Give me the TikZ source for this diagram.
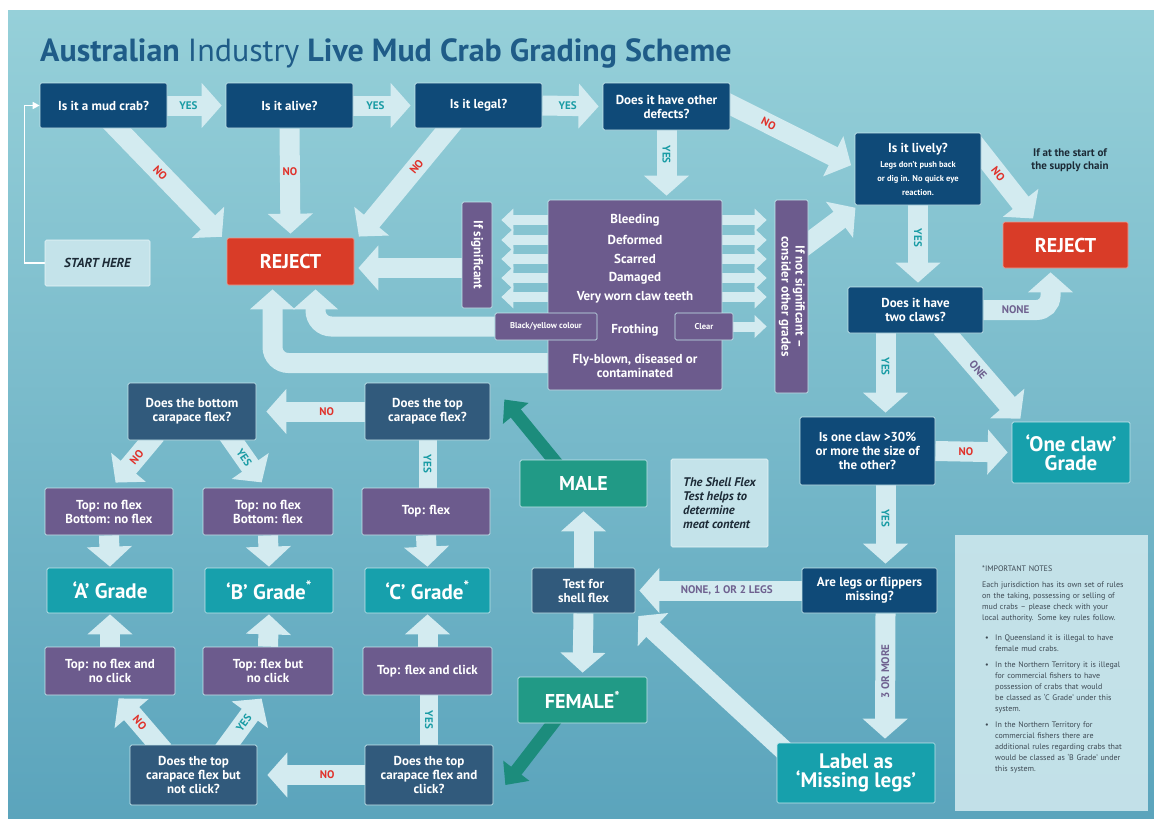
\documentclass[tikz,border=0pt]{standalone}
\usepackage{fontspec}
\usepackage{graphicx}
\setmainfont{PT Sans}
\usetikzlibrary{arrows.meta,calc}
\definecolor{bgA}{HTML}{96D0D9}
\definecolor{bgB}{HTML}{78BCCB}
\definecolor{bgC}{HTML}{5BA4BC}
\definecolor{titleC}{HTML}{1F5C88}
\definecolor{navy}{HTML}{0F4A78}
\definecolor{slate}{HTML}{315A7C}
\definecolor{purp}{HTML}{6C5B8D}
\definecolor{tealG}{HTML}{17A0AC}
\definecolor{greenC}{HTML}{219A86}
\definecolor{greenA}{HTML}{1C8C7C}
\definecolor{redC}{HTML}{D93C28}
\definecolor{arrC}{HTML}{D3EBF0}
\definecolor{edgeC}{HTML}{C6E6EC}
\definecolor{yesC}{HTML}{1A9CA5}
\definecolor{noC}{HTML}{E0322B}
\definecolor{othC}{HTML}{6F6290}
\definecolor{darkT}{HTML}{1C2A36}
\definecolor{paleC}{HTML}{C4E3EA}
\definecolor{notesC}{HTML}{CBE6EC}
\pgfdeclarelayer{bg}
\pgfdeclarelayer{arr}
\pgfsetlayers{bg,arr,main}
\newcommand\bx[7]{\node[#6, minimum width={(#4-#2)*1pt}, minimum height={(#5-#3)*1pt}] (#1) at ({(#2+#4)/2},{(#3+#5)/2}) {#7};}
\newcommand\nbul{\par\vspace{5pt}\hangindent=13pt\hangafter=1\noindent\makebox[13pt][l]{\hspace{3pt}\textbullet}}
\newcommand\sml{\fontsize{8.5}{9.5}\selectfont}
\newcommand\sfl{\fontsize{12.5}{14.5}\selectfont\bfseries\itshape}
\begin{document}
\begin{tikzpicture}[x=1pt,y=-1pt,
 box/.style={draw=edgeC, line width=0.7pt, rounded corners=1.5pt, text=white, align=center, inner sep=1pt, font=\bfseries\fontsize{13}{14}\selectfont},
 q/.style={box, fill=navy},
 sq/.style={box, fill=slate},
 pq/.style={box, fill=purp},
 pqs/.style={box, fill=purp, font=\bfseries\fontsize{8.5}{9}\selectfont},
 gr/.style={box, fill=tealG, font=\bfseries\fontsize{21}{19}\selectfont},
 sex/.style={box, fill=greenC, font=\bfseries\fontsize{20}{20}\selectfont},
 rej/.style={box, fill=redC, draw=redC!50!white, font=\bfseries\fontsize{20}{20}\selectfont},
 pale/.style={box, fill=paleC, draw=white!60!paleC, text=darkT},
 sftS/.style={pale, align=left},
 dtext/.style={text=white, inner sep=0pt, align=center, font=\bfseries\fontsize{13}{14}\selectfont},
 flow/.style={draw=arrC, line width=20pt, -{Triangle[length=20pt,width=44pt]}, shorten >=4pt},
 sflow/.style={draw=arrC, line width=10pt, -{Triangle[length=12pt,width=22pt]}},
 gflow/.style={draw=greenA, line width=13pt, -{Triangle[length=18pt,width=32pt]}},
 shaft/.style={draw=arrC, line width=18pt},
 lab/.style={font=\bfseries\fontsize{11}{11}\selectfont, inner sep=0pt},
 yes/.style={lab, text=yesC},
 no/.style={lab, text=noC},
 oth/.style={lab, text=othC}]
\useasboundingbox (0,0) rectangle (1154,819);
\begin{pgfonlayer}{bg}
\fill[white] (0,0) rectangle (1154,819);
\shade[top color=bgA, middle color=bgB, bottom color=bgC] (8,10) rectangle (1154,819);
\end{pgfonlayer}

\node[anchor=base west, text=titleC, font=\bfseries\fontsize{32}{34}\selectfont, inner sep=0pt] (title) at (40,61) {Australian {\mdseries Industry} Live Mud Crab Grading Scheme};

% top row
\bx{b1}{40}{83}{167}{128}{q}{Is it a mud crab?}
\bx{b2}{226}{83}{353}{128}{q}{Is it alive?}
\bx{b3}{415}{83}{542}{128}{q}{Is it legal?}
\bx{b4}{603}{83}{730}{130}{q}{Does it have other\\defects?}
\bx{start}{45}{240}{150}{286}{pale}{\fontsize{13}{14}\selectfont\itshape START HERE}
\bx{rejL}{227}{238}{354}{285}{rej}{REJECT}
\bx{ifsig}{462}{202}{492}{308}{pq}{\rotatebox{-90}{If significant}}
\bx{defects}{548}{200}{722}{390}{pq}{}
\node[dtext] (d1) at (635,220) {Bleeding};
\node[dtext] (d2) at (635,240) {Deformed};
\node[dtext] (d3) at (635,259) {Scarred};
\node[dtext] (d4) at (635,278) {Damaged};
\node[dtext] (d5) at (635,297) {Very worn claw teeth};
\node[dtext] (d6) at (635,330) {Frothing};
\node[dtext] (d7) at (635,366) {Fly-blown, diseased or\\contaminated};
\bx{bycol}{495}{313}{597}{340}{pqs}{Black/yellow colour}
\bx{clear}{675}{313}{733}{340}{pqs}{Clear}
\bx{ifnot}{775}{200}{808}{393}{pq}{\rotatebox{-90}{\begin{tabular}{@{}c@{}}If not significant –\\consider other grades\end{tabular}}}

% right column
\bx{lively}{855}{133}{981}{205}{q}{Is it lively?\\[1pt]\sml Legs don't push back\\\sml or dig in. No quick eye\\\sml reaction.}
\node[text=darkT, align=center, inner sep=0pt, font=\bfseries\fontsize{11}{13.5}\selectfont] (chain) at (1070,160) {If at the start of\\the supply chain};
\bx{rejR}{1003}{222}{1128}{268}{rej}{REJECT}
\bx{claws}{848}{287}{983}{333}{q}{Does it have\\two claws?}
\bx{oneq}{800}{417}{935}{485}{q}{Is one claw >30\%\\or more the size of\\the other?}
\bx{onegr}{1012}{422}{1130}{483}{gr}{‘One claw’\\Grade}
\bx{legs}{802}{568}{937}{613}{q}{Are legs or flippers\\missing?}
\bx{mlegs}{777}{743}{935}{803}{gr}{Label as\\‘Missing legs’}

% middle
\bx{test}{532}{568}{635}{613}{sq}{Test for\\shell flex}
\bx{male}{520}{460}{647}{507}{sex}{MALE}
\bx{female}{518}{677}{647}{723}{sex}{FEMALE\textsuperscript{*}}
\bx{sft}{671}{459}{768}{547}{sftS}{\sfl The Shell Flex\\\sfl Test helps to\\\sfl determine\\\sfl meat content}

% left bottom
\bx{topq}{365}{383}{490}{440}{sq}{Does the top\\carapace flex?}
\bx{botq}{128}{383}{256}{440}{sq}{Does the bottom\\carapace flex?}
\bx{p1}{45}{488}{173}{535}{pq}{Top: no flex\\Bottom: no flex}
\bx{p2}{203}{488}{333}{535}{pq}{Top: no flex\\Bottom: flex}
\bx{p3}{362}{488}{490}{535}{pq}{Top: flex}
\bx{ga}{47}{568}{173}{613}{gr}{‘A’ Grade}
\bx{gb}{205}{568}{333}{613}{gr}{‘B’ Grade\textsuperscript{*}}
\bx{gc}{365}{568}{490}{613}{gr}{‘C’ Grade\textsuperscript{*}}
\bx{p4}{45}{647}{175}{695}{pq}{Top: no flex and\\no click}
\bx{p5}{203}{647}{333}{695}{pq}{Top: flex but\\no click}
\bx{p6}{363}{647}{492}{695}{pq}{Top: flex and click}
\bx{q5}{130}{745}{257}{805}{sq}{Does the top\\carapace flex but\\not click?}
\bx{q6}{365}{745}{493}{805}{sq}{Does the top\\carapace flex and\\click?}

% notes
\node[fill=notesC, fill opacity=0.92, minimum width=193pt, minimum height=276pt, inner sep=0pt, anchor=north west] (notes) at (955,535) {};
\node[anchor=north west, text width=145pt, inner sep=0pt, align=left, font=\fontsize{8}{11}\selectfont, text=darkT!85!white] (notestext) at (982,566) {\hyphenpenalty=10000\exhyphenpenalty=10000 *IMPORTANT NOTES\par\vspace{5pt}
Each jurisdiction has its own set of rules on the taking, possessing or selling of mud crabs – please check with your local authority. Some key rules follow.\par\vspace{4pt}
\nbul In Queensland it is illegal to have female mud crabs.\par
\nbul In the Northern Territory it is illegal for commercial fishers to have possession of crabs that would be classed as ‘C Grade’ under this system.\par
\nbul In the Northern Territory for commercial fishers there are additional rules regarding crabs that would be classed as ‘B Grade’ under this system.\par};

\begin{pgfonlayer}{arr}
% row 1
\draw[flow] (b1.east) -- (b2.west) node[yes,pos=.36]{YES};
\draw[flow] (b2.east) -- (b3.west) node[yes,pos=.36]{YES};
\draw[flow] (b3.east) -- (b4.west) node[yes,pos=.42]{YES};
\draw[flow] ($(b1.south)+(4,-10)$) -- ($(rejL.north west)+(-2,2)$) node[no,sloped,pos=.45]{NO};
\draw[flow] (b2.south) -- (rejL.north) node[no,pos=.4]{NO};
\draw[flow] ($(b3.south)+(-22,-10)$) -- ($(rejL.north east)+(2,2)$) node[no,sloped,pos=.4]{NO};
\draw[flow] (ifsig.west |- 0,268) -- (rejL.east |- 0,268);
\draw[flow, rounded corners=16pt] (bycol.west) -| ($(rejL.south)+(25,0)$);
\draw[flow, rounded corners=16pt] (defects.west |- 0,363) -| ($(rejL.south)+(-18,0)$);
\foreach \yy in {220,240,259,278,297} {
  \draw[sflow, shorten >=9pt] (defects.west |- 0,\yy) -- (ifsig.east |- 0,\yy);
  \draw[sflow, shorten >=8pt] (defects.east |- 0,\yy) -- (ifnot.west |- 0,\yy);
}
\draw[sflow, shorten >=8pt] (clear.east) -- (ifnot.west |- clear.east);
\draw[flow] (b4.south) -- (b4.south |- defects.north) node[yes,sloped,pos=.35]{YES};
\draw[flow] ($(b4.east)+(-8,-6)$) -- ($(lively.west)+(0,-2)$) node[no,sloped,pos=.35]{NO};
\draw[flow] ($(ifnot.north east)+(-6,48)$) -- ($(lively.south west)+(4,0)$);
% right column
\draw[flow] ($(lively.north east)+(-8,10)$) -- ($(rejR.north)+(-30,0)$) node[no,sloped,pos=.4]{NO};
\draw[flow] (lively.south) -- (lively.south |- claws.north) node[yes,sloped,pos=.4]{YES};
\draw[flow, rounded corners=14pt] (claws.east) -| ($(rejR.south)+(-15,0)$) node[oth,pos=.24]{NONE};
\draw[flow] ($(claws.south east)+(-42,-6)$) -- ($(onegr.north)+(-48,0)$) node[oth,sloped,pos=.45]{ONE};
\draw[flow] ($(claws.south)+(-30,0)$) -- ($(oneq.north)+(18,0)$) node[yes,sloped,pos=.4]{YES};
\draw[flow] (oneq.east) -- (onegr.west) node[no,pos=.4]{NO};
\draw[flow] ($(oneq.south)+(18,0)$) -- ($(legs.north)+(16,0)$) node[yes,sloped,pos=.4]{YES};
\draw[flow] (legs.west) -- (test.east) node[oth,pos=.45]{NONE, 1 OR 2 LEGS};
\draw[flow] ($(legs.south)+(16,0)$) -- ($(mlegs.north)+(29,0)$) node[oth,sloped,pos=.45]{3 OR MORE};
\draw[flow] ($(mlegs.north west)+(12,12)$) -- (test.south east);
% middle
\draw[flow] (test.north) -- (male.south);
\draw[flow] (test.south) -- (female.north);
\draw[gflow] ($(male.north)+(-25,6)$) -- ($(topq.east)+(14,-12)$);
\draw[gflow] ($(female.south)+(-25,-6)$) -- ($(q6.east)+(12,10)$);
% left bottom
\draw[flow, shorten >=10pt] (topq.west) -- (botq.east) node[no,pos=.35]{NO};
\draw[flow] ($(botq.south)+(-36,-6)$) -- ($(p1.north)+(4,-2)$) node[no,sloped,pos=.45]{NO};
\draw[flow] ($(botq.south)+(36,-6)$) -- ($(p2.north)+(-4,-2)$) node[yes,sloped,pos=.45]{YES};
\draw[shaft] (topq.south) -- (topq.south |- p3.north) node[yes,pos=.5,rotate=-90]{YES};
\draw[flow, shorten >=1pt] (p1.south) -- (ga.north);
\draw[flow, shorten >=1pt] (p2.south) -- (gb.north);
\draw[flow, shorten >=1pt] (p3.south) -- (gc.north);
\draw[flow, shorten >=1pt] (p4.north) -- (ga.south);
\draw[flow, shorten >=1pt] (p5.north) -- (gb.south);
\draw[flow, shorten >=1pt] (p6.north) -- (gc.south);
\draw[flow, shorten >=10pt] (q6.west) -- (q5.east) node[no,pos=.35]{NO};
\draw[flow] ($(q5.north)+(-30,6)$) -- ($(p4.south)+(6,0)$) node[no,sloped,pos=.5]{NO};
\draw[flow] ($(q5.north)+(30,6)$) -- ($(p5.south)+(-4,0)$) node[yes,sloped,pos=.5]{YES};
\draw[shaft] (q6.north) -- (q6.north |- p6.south) node[yes,pos=.5,rotate=-90]{YES};
% start line
\draw[white, line width=1.6pt, -{Triangle[length=7pt,width=7pt]}] (start.west) -- ++(-20,0) |- (b1.west);
\end{pgfonlayer}
\end{tikzpicture}
\end{document}
